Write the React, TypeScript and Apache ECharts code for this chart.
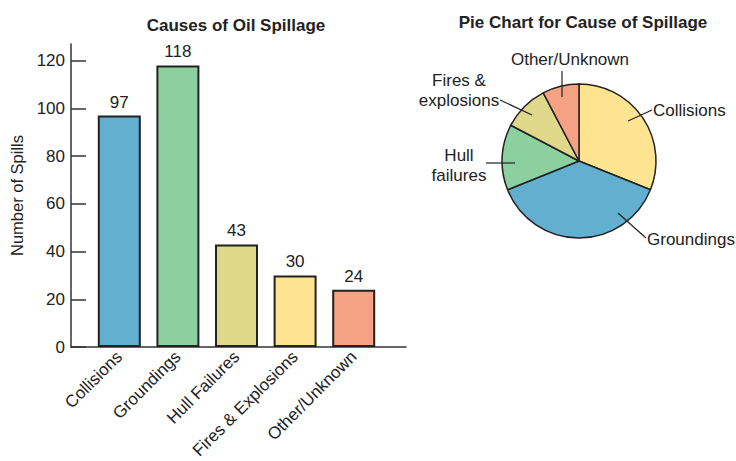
import React, { useEffect, useRef } from 'react';
import * as echarts from 'echarts';

const categories = ['Collisions', 'Groundings', 'Hull Failures', 'Fires & Explosions', 'Other/Unknown'];
const spills = [97, 118, 43, 30, 24];
const barColors = ['#63AFD0', '#8DD0A0', '#DFD78A', '#FEE490', '#F5A184'];
const pieLabels = ['Collisions', 'Groundings', 'Hull\nfailures', 'Fires &\nexplosions', 'Other/Unknown'];
const pieColors = ['#FEE490', '#63AFD0', '#8DD0A0', '#DFD78A', '#F5A184'];
const yTicks = [0, 20, 40, 60, 80, 100, 120];

const FONT = '"Liberation Sans", Arial, sans-serif';
const INK = '#222';
const FS = 17;

// layout of the pie call-outs (positions only)
const pieLabelLayout = [
  { x: 653, y: 110, align: 'left', line: [[628, 121], [652, 110]] },
  { x: 647, y: 239, align: 'left', line: [[618, 213], [646, 238]] },
  { x: 459, y: 165, align: 'center', line: [[515, 163], [486, 163]] },
  { x: 459, y: 90, align: 'center', line: [[532, 115], [500, 100]] },
  { x: 570, y: 59, align: 'center', line: [[562, 97], [562, 71]] },
];

export default function App() {
  const ref = useRef<HTMLDivElement>(null);
  useEffect(() => {
    document.body.style.margin = '0';
    const chart = echarts.init(ref.current!, null, { renderer: 'svg' });
    const option: any = {
      animation: false,
      backgroundColor: '#fff',
      textStyle: { fontFamily: FONT, color: INK },
      title: [
        {
          text: 'Causes of Oil Spillage',
          left: 231,
          top: 12,
          textAlign: 'center',
          textStyle: { fontFamily: FONT, fontSize: 17, fontWeight: 'bold', color: INK },
        },
        {
          text: 'Pie Chart for Cause of Spillage',
          left: 578,
          top: 9,
          textAlign: 'center',
          textStyle: { fontFamily: FONT, fontSize: 17, fontWeight: 'bold', color: INK },
        },
      ],
      grid: [
        { left: 71, right: 330, top: 44, bottom: 114, outerBoundsMode: 'none', containLabel: false },
        { left: 90, right: 353, top: 44, bottom: 114, outerBoundsMode: 'none', containLabel: false },
      ],
      xAxis: [
        {
          gridIndex: 0,
          type: 'value',
          min: 0,
          max: 1,
          axisLine: { show: true, lineStyle: { color: '#333', width: 1.5 } },
          axisTick: { show: false },
          axisLabel: { show: false },
          splitLine: { show: false },
        },
        {
          gridIndex: 1,
          type: 'category',
          data: categories,
          axisLine: { show: false },
          axisTick: { show: false },
          axisLabel: {
            rotate: 45,
            margin: 7,
            fontSize: FS,
            fontFamily: FONT,
            color: INK,
            interval: 0,
          },
        },
      ],
      yAxis: [
        {
          gridIndex: 0,
          type: 'value',
          min: 0,
          max: 127,
          interval: 20,
          name: 'Number of Spills',
          nameLocation: 'middle',
          nameGap: 46,
          nameTextStyle: { fontFamily: FONT, fontSize: 16.5, color: INK },
          axisLine: { show: true, lineStyle: { color: '#333', width: 1.5 } },
          axisTick: {
            show: true,
            inside: true,
            length: 15,
            lineStyle: { color: '#333', width: 1.5 },
            customValues: yTicks,
          },
          axisLabel: {
            fontSize: FS,
            fontFamily: FONT,
            color: INK,
            margin: 6,
            customValues: yTicks,
          },
          splitLine: { show: false },
        },
        {
          gridIndex: 1,
          type: 'value',
          min: 0,
          max: 127,
          show: false,
          splitLine: { show: false },
        },
      ],
      graphic: pieLabelLayout.map((l) => ({
        type: 'line',
        silent: true,
        shape: { x1: l.line[0][0], y1: l.line[0][1], x2: l.line[1][0], y2: l.line[1][1] },
        style: { stroke: INK, lineWidth: 1.2 },
        z: 10,
      })),
      series: [
        {
          type: 'bar',
          xAxisIndex: 1,
          yAxisIndex: 1,
          barWidth: 43,
          data: spills.map((v, i) => ({
            value: v,
            itemStyle: { color: barColors[i] },
          })),
          itemStyle: { borderColor: INK, borderWidth: 2 },
          label: {
            show: true,
            position: 'top',
            distance: 5,
            fontSize: FS,
            fontFamily: FONT,
            color: INK,
          },
        },
        {
          type: 'pie',
          center: [579, 161],
          radius: 77,
          startAngle: 90,
          clockwise: true,
          avoidLabelOverlap: false,
          data: spills.map((v, i) => ({
            value: v,
            name: pieLabels[i],
            itemStyle: { color: pieColors[i] },
          })),
          itemStyle: { borderColor: INK, borderWidth: 1.5 },
          label: {
            show: true,
            position: 'outside',
            fontSize: FS,
            fontFamily: FONT,
            color: INK,
            lineHeight: 20,
            overflow: 'none',
            formatter: '{b}',
          },
          labelLine: { show: false, length: 2, length2: 2 },
          labelLayout: (params: any) => {
            const l = pieLabelLayout[params.dataIndex];
            return {
              x: l.x,
              y: l.y,
              align: l.align,
              verticalAlign: 'middle',
            };
          },
          emphasis: { disabled: true },
        },
      ],
    };
    chart.setOption(option);
    return () => chart.dispose();
  }, []);
  return <div ref={ref} style={{ width: 736, height: 461 }} />;
}
